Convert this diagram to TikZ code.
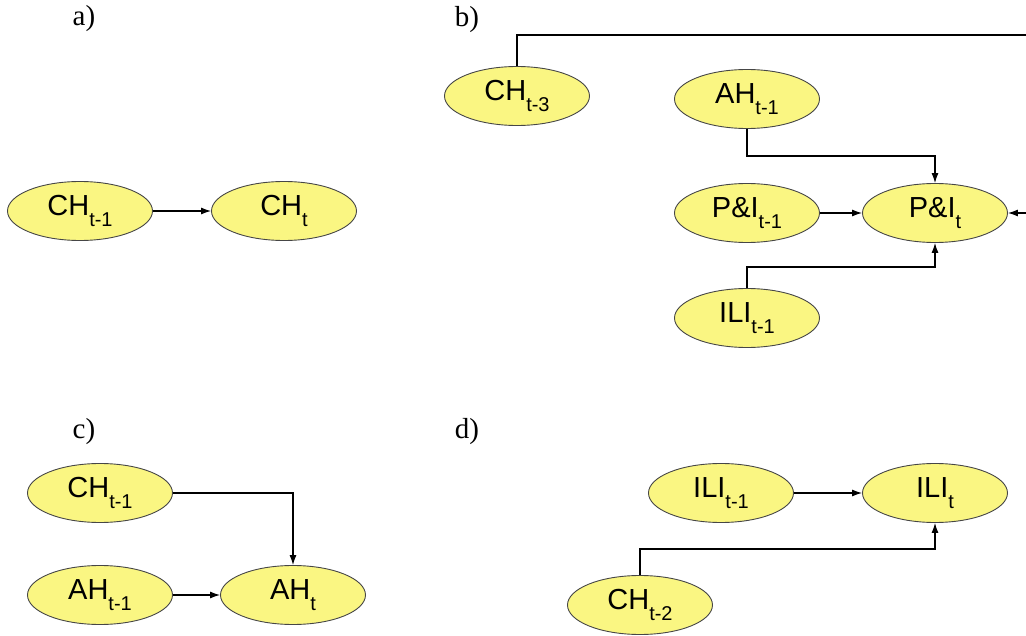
\documentclass[tikz,border=0pt]{standalone}
\usepackage{fontspec}
\setmainfont{Liberation Serif}
\newfontfamily\nodefont{Liberation Sans}
\usetikzlibrary{shapes.geometric,arrows.meta}
\definecolor{nodefill}{RGB}{250,246,130}
\definecolor{nodeline}{RGB}{70,70,70}
\newcommand{\lsub}[1]{\raisebox{-0.36em}{\fontsize{20}{20}\selectfont #1}}
\tikzset{
  var/.style={ellipse, draw=nodeline, line width=0.9pt, fill=nodefill,
    minimum width=145pt, minimum height=59pt, inner sep=0pt,
    font=\nodefont\fontsize{29}{29}\selectfont},
  conn/.style={line width=1.1pt, -{Latex[length=10pt,width=7pt]}},
  panel/.style={font=\fontsize{29}{29}\selectfont, inner sep=0pt}
}
\begin{document}
\begin{tikzpicture}[x=1pt,y=-1pt]
\useasboundingbox (0,0) rectangle (1026,636);
\clip (0,0) rectangle (1026,636);
% panel labels
\node[panel] (la) at (84,19) {a)};
\node[panel] (lb) at (467,20) {b)};
\node[panel] (lc) at (84,432) {c)};
\node[panel] (ld) at (467,432) {d)};
% a)
\node[var] (a1) at (80,211) {CH\lsub{t-1}};
\node[var] (a0) at (284,211) {CH\lsub{t}};
\draw[conn] (a1) -- (a0);
% b)
\node[var] (b3) at (517,96) {CH\lsub{t-3}};
\node[var] (bah) at (747,99) {AH\lsub{t-1}};
\node[var] (bp1) at (747,213) {P\&I\lsub{t-1}};
\node[var] (bp0) at (935,213) {P\&I\lsub{t}};
\node[var] (bili) at (747,318) {ILI\lsub{t-1}};
\coordinate (offA) at (1050,35);
\coordinate (offB) at (1050,213);
\draw[conn] (b3.north) |- (offA) -- (offB) -- (bp0.east);
\draw[conn] (bah.south) |- (935,156) -- (bp0.north);
\draw[conn] (bp1) -- (bp0);
\draw[conn] (bili.north) |- (935,267) -- (bp0.south);
% c)
\node[var] (c1) at (100,493) {CH\lsub{t-1}};
\node[var] (cah1) at (100,595) {AH\lsub{t-1}};
\node[var] (cah0) at (293,595) {AH\lsub{t}};
\draw[conn] (c1.east) -| (cah0.north);
\draw[conn] (cah1) -- (cah0);
% d)
\node[var] (d1) at (721,493) {ILI\lsub{t-1}};
\node[var] (d0) at (935,493) {ILI\lsub{t}};
\node[var] (d2) at (640,605) {CH\lsub{t-2}};
\draw[conn] (d1) -- (d0);
\draw[conn] (d2.north) |- (935,549) -- (d0.south);
\end{tikzpicture}
\end{document}
